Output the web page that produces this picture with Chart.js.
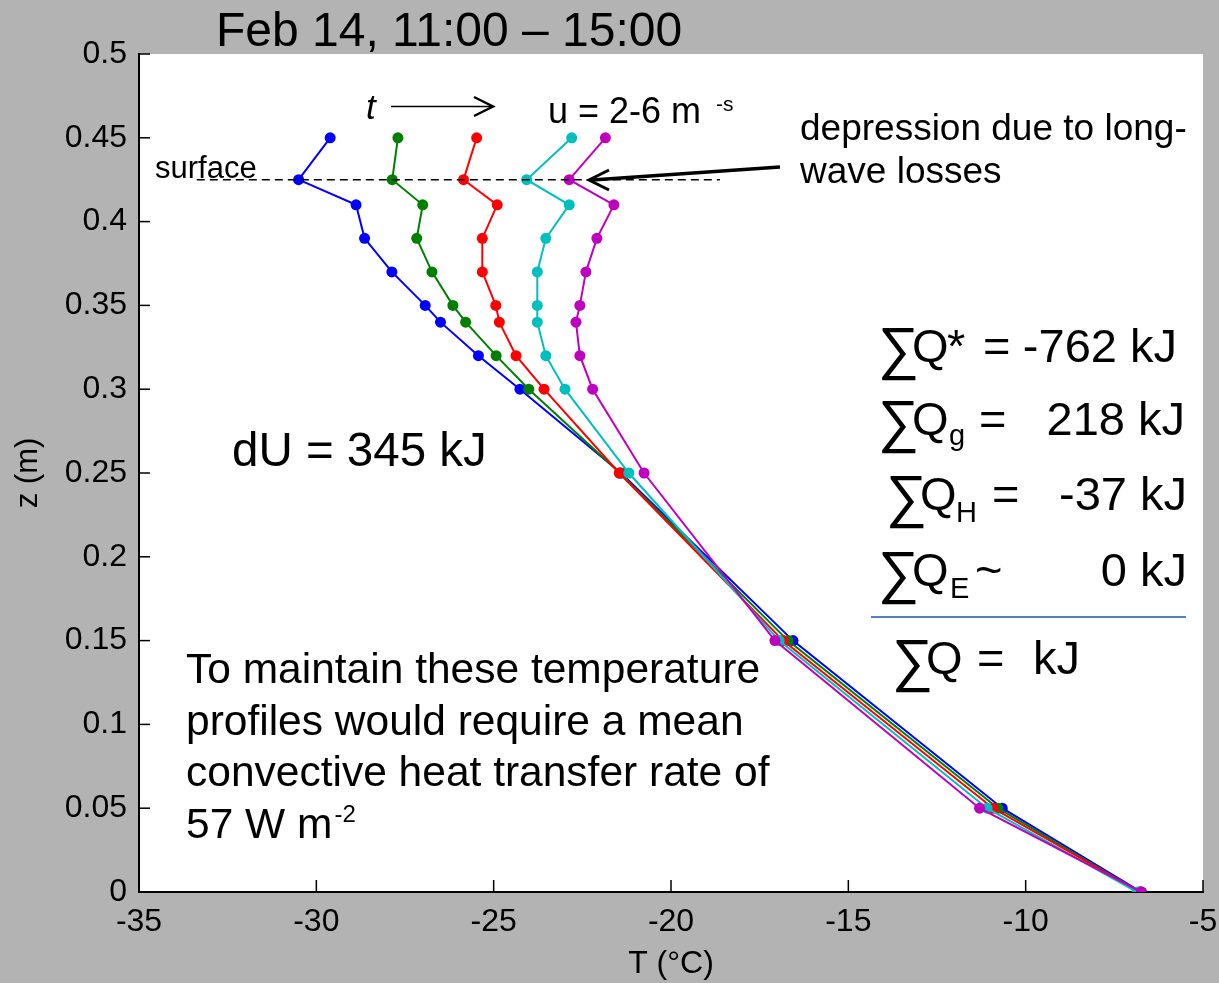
<!DOCTYPE html>
<html>
<head>
<meta charset="utf-8">
<script src="https://cdn.jsdelivr.net/npm/chart.js@4"></script>
<style>
html, body { margin: 0; padding: 0; background: #b3b3b3; }
#wrap { width: 1219px; height: 983px; }
</style>
</head>
<body>
<div id="wrap"><canvas id="profileChart" width="1219" height="983"></canvas></div>
<script>
// depth of each thermocouple (m)
const depths = [0.45, 0.425, 0.41, 0.39, 0.37, 0.35, 0.34, 0.32, 0.30, 0.25, 0.15, 0.05, 0];

// temperature profiles (°C), 11:00 -> 15:00
const temp1100 = [-29.61, -30.50, -28.88, -28.64, -27.87, -26.93, -26.50, -25.43, -24.26, -21.41, -16.56, -10.66, -6.74];
const temp1200 = [-27.70, -27.86, -27.00, -27.17, -26.74, -26.15, -25.79, -24.93, -24.01, -21.44, -16.70, -10.78, -6.78];
const temp1300 = [-25.48, -25.85, -24.90, -25.32, -25.32, -24.94, -24.84, -24.37, -23.58, -21.46, -16.84, -10.92, -6.78];
const temp1400 = [-22.80, -24.07, -22.87, -23.53, -23.77, -23.77, -23.77, -23.53, -22.99, -21.19, -16.95, -11.09, -6.86];
const temp1500 = [-21.85, -22.87, -21.61, -22.09, -22.40, -22.57, -22.68, -22.57, -22.21, -20.76, -17.07, -11.30, -6.74];

const seriesLabels = ['11:00', '12:00', '13:00', '14:00', '15:00'];
const seriesColors = ['#0000ff', '#008000', '#ff0000', '#00bfbf', '#bf00bf'];

const xTickValues = [-35, -30, -25, -20, -15, -10, -5];
const xTickLabels = ['-35', '-30', '-25', '-20', '-15', '-10', '-5'];
const yTickValues = [0, 0.05, 0.1, 0.15, 0.2, 0.25, 0.3, 0.35, 0.4, 0.45, 0.5];
const yTickLabels = ['0', '0.05', '0.1', '0.15', '0.2', '0.25', '0.3', '0.35', '0.4', '0.45', '0.5'];

// surface marker line (data units)
const surfaceZ = 0.425;
const surfaceFrom = -33.37;
const surfaceTo = -18.62;

const FONT = '"Liberation Sans", Arial, Helvetica, sans-serif';

function txt(ctx, s, x, y, size, align, style) {
    ctx.font = (style ? style + ' ' : '') + size + 'px ' + FONT;
    ctx.textAlign = align || 'left';
    ctx.textBaseline = 'alphabetic';
    ctx.fillStyle = '#000';
    ctx.fillText(s, x, y);
    return x + ctx.measureText(s).width;
}

function line(ctx, pts, w, color) {
    ctx.beginPath();
    ctx.moveTo(pts[0][0], pts[0][1]);
    for (let i = 1; i < pts.length; i++) ctx.lineTo(pts[i][0], pts[i][1]);
    ctx.lineWidth = w;
    ctx.strokeStyle = color || '#000';
    ctx.stroke();
}

// tall summation sign followed by Q
function sumQ(ctx, x, y) {
    txt(ctx, '\u2211', x - 1, y + 6, 58);
    txt(ctx, 'Q', x + 33, y, 47);
}

const backdrop = {
    id: 'backdrop',
    beforeDraw(chart) {
        const { ctx, chartArea: a } = chart;
        ctx.save();
        ctx.fillStyle = '#b3b3b3';
        ctx.fillRect(0, 0, chart.width, chart.height);
        ctx.fillStyle = '#ffffff';
        ctx.fillRect(a.left, a.top, a.right - a.left, a.bottom - a.top);
        ctx.restore();
    }
};

const annotations = {
    id: 'annotations',
    afterDraw(chart) {
        const { ctx, chartArea: a } = chart;
        const xs = chart.scales.x, ys = chart.scales.y;
        ctx.save();
        ctx.lineCap = 'butt';

        // inward tick marks
        xs.ticks.forEach(t => {
            const px = xs.getPixelForValue(t.value);
            line(ctx, [[px, a.bottom], [px, a.bottom - 12]], 1.5);
        });
        ys.ticks.forEach(t => {
            const py = ys.getPixelForValue(t.value);
            line(ctx, [[a.left, py], [a.left + 11, py]], 1.5);
        });

        // surface dashed line
        const sy = ys.getPixelForValue(surfaceZ);
        ctx.setLineDash([8, 5]);
        line(ctx, [[xs.getPixelForValue(surfaceFrom), sy], [xs.getPixelForValue(surfaceTo), sy]], 1.6);
        ctx.setLineDash([]);

        // title
        txt(ctx, 'Feb 14, 11:00 \u2013 15:00', 216, 46, 48);

        txt(ctx, 'surface', 155, 178, 31);

        // time arrow
        txt(ctx, 't', 366, 119, 35, 'left', 'italic');
        line(ctx, [[391, 106.5], [492, 106.5]], 1.5);
        line(ctx, [[474, 97], [493, 106.5], [474, 116]], 2.5);

        txt(ctx, 'u = 2-6 m', 548, 123, 36);
        txt(ctx, '-s', 716, 111, 21);

        txt(ctx, 'depression due to long-', 800, 140, 37);
        txt(ctx, 'wave losses', 800, 183, 37);
        line(ctx, [[780, 167], [592, 180]], 3.5);
        line(ctx, [[609, 170], [589, 180], [609, 190]], 3);

        txt(ctx, 'dU = 345 kJ', 232, 466, 47.5);

        // energy balance
        sumQ(ctx, 879, 362);
        txt(ctx, '*', 947, 362, 47);
        txt(ctx, '=', 983, 362, 47);
        txt(ctx, '-762 kJ', 1177, 362, 47, 'right');

        sumQ(ctx, 879, 435);
        txt(ctx, 'g', 949, 445, 29);
        txt(ctx, '=', 979, 435, 47);
        txt(ctx, '218 kJ', 1185, 435, 47, 'right');

        sumQ(ctx, 887, 510);
        txt(ctx, 'H', 956, 522, 29);
        txt(ctx, '=', 992, 510, 47);
        txt(ctx, '-37 kJ', 1187, 510, 47, 'right');

        sumQ(ctx, 879, 586);
        txt(ctx, 'E', 950, 598, 29);
        txt(ctx, '~', 975, 586, 47);
        txt(ctx, '0 kJ', 1187, 586, 47, 'right');

        line(ctx, [[871, 617], [1186, 617]], 1.8, '#4f81bd');

        sumQ(ctx, 893, 674);
        txt(ctx, '=', 977, 674, 47);
        txt(ctx, 'kJ', 1033, 674, 47);

        // note
        txt(ctx, 'To maintain these temperature', 186, 683, 42.5);
        txt(ctx, 'profiles would require a mean', 186, 734.5, 42.5);
        txt(ctx, 'convective heat transfer rate of', 186, 786, 42.5);
        const endX = txt(ctx, '57 W m', 186, 837.5, 42.5);
        txt(ctx, '-2', endX + 2, 822, 24);

        ctx.restore();
    }
};

const profiles = [temp1100, temp1200, temp1300, temp1400, temp1500];

const datasets = profiles.map((temps, i) => ({
    label: seriesLabels[i],
    data: depths.map((z, j) => ({ x: temps[j], y: z })),
    showLine: true,
    borderColor: seriesColors[i],
    backgroundColor: seriesColors[i],
    borderWidth: 2,
    pointRadius: 5.5,
    pointBorderWidth: 0,
    order: profiles.length - 1 - i
}));

const tickFont = { family: FONT, size: 32 };

new Chart(document.getElementById('profileChart').getContext('2d'), {
    type: 'scatter',
    data: { datasets },
    options: {
        responsive: false,
        animation: false,
        devicePixelRatio: 1,
        layout: { padding: { top: 54, right: 16, bottom: 0, left: 0 } },
        plugins: {
            legend: { display: false },
            tooltip: { enabled: false }
        },
        scales: {
            x: {
                type: 'linear',
                min: -35,
                max: -5,
                afterBuildTicks: s => { s.ticks = xTickValues.map(v => ({ value: v })); },
                afterFit: s => { s.height = 91; s.paddingLeft = 0; s.paddingRight = 0; },
                grid: { display: false, drawTicks: false },
                border: { display: true, color: '#000', width: 2 },
                ticks: {
                    color: '#000',
                    font: tickFont,
                    padding: 11,
                    maxRotation: 0,
                    autoSkip: false,
                    callback: (v, i) => xTickLabels[i]
                },
                title: {
                    display: true,
                    text: 'T (\u00b0C)',
                    color: '#000',
                    font: { family: FONT, size: 32 },
                    padding: { top: 0, bottom: 0 }
                }
            },
            y: {
                type: 'linear',
                min: 0,
                max: 0.5,
                afterBuildTicks: s => { s.ticks = yTickValues.map(v => ({ value: v })); },
                afterFit: s => { s.width = 139; s.paddingTop = 0; s.paddingBottom = 0; },
                grid: { display: false, drawTicks: false },
                border: { display: true, color: '#000', width: 2 },
                ticks: {
                    color: '#000',
                    font: tickFont,
                    padding: 12,
                    autoSkip: false,
                    callback: (v, i) => yTickLabels[i]
                },
                title: {
                    display: true,
                    text: 'z (m)',
                    color: '#000',
                    font: { family: FONT, size: 31 },
                    padding: { top: 10, bottom: 0 }
                }
            }
        }
    },
    plugins: [backdrop, annotations]
});
</script>
</body>
</html>
